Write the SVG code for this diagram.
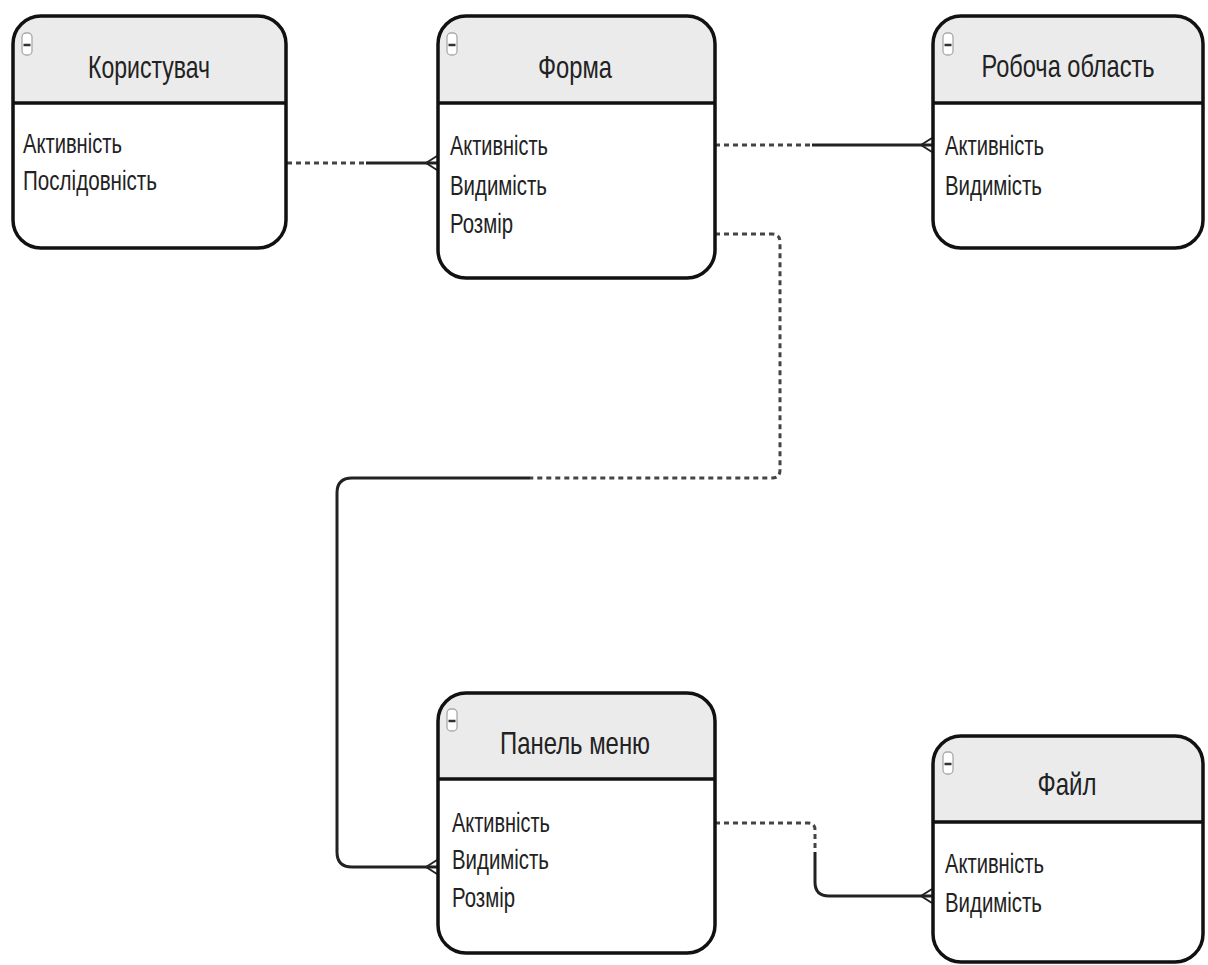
<svg xmlns="http://www.w3.org/2000/svg" width="1208" height="965" viewBox="0 0 1208 965">
<style>
.frame{fill:none;stroke:#111;stroke-width:3.5}
.body{fill:#fff}
.head{fill:#ebebeb}
.div{stroke:#111;stroke-width:3.5}
.icon{fill:#fff;stroke:#aaa;stroke-width:1.3}
.minus{stroke:#333;stroke-width:2.5}
.title{font-family:"Liberation Sans",Arial,sans-serif;font-size:32px;fill:#222;text-anchor:middle}
.row{font-family:"Liberation Sans",Arial,sans-serif;font-size:28px;fill:#222}
.dash{fill:none;stroke:#444;stroke-width:3;stroke-dasharray:5 4}
.solid{fill:none;stroke:#222;stroke-width:3}
</style>
<defs>
<marker id="crow" markerUnits="userSpaceOnUse" markerWidth="14" markerHeight="18" viewBox="0 0 14 18" refX="13" refY="9" orient="auto">
<path d="M2,9 L13,2 M2,9 L13,9 M2,9 L13,16" fill="none" stroke="#222" stroke-width="2"/>
</marker>
</defs>
<rect width="1208" height="965" fill="#fff"/>
<g id="connectors">
<path class="dash" d="M287,163 H366"/>
<path class="solid" d="M366,163 H437" marker-end="url(#crow)"/>
<path class="dash" d="M715,145 H812"/>
<path class="solid" d="M812,145 H932" marker-end="url(#crow)"/>
<path class="dash" d="M715,234 H772 Q780,234 780,242 V470 Q780,478 772,478 H530"/>
<path class="solid" d="M530,478 H352 Q337,478 337,493 V852 Q337,867 352,867 H437" marker-end="url(#crow)"/>
<path class="dash" d="M715,823 H808 Q815,823 815,830 V852"/>
<path class="solid" d="M815,852 V882 Q815,896 829,896 H932" marker-end="url(#crow)"/>
</g>
<g id="node-korystuvach">
<rect class="body" x="13" y="16" width="273" height="232" rx="28"/>
<path class="head" d="M13,103 V44 A28,28 0 0 1 41,16 H258 A28,28 0 0 1 286,44 V103 Z"/>
<rect class="frame" x="13" y="16" width="273" height="232" rx="28"/>
<line class="div" x1="13" y1="103" x2="286" y2="103"/>
<rect class="icon" x="22" y="33" width="10" height="22" rx="4"/>
<line class="minus" x1="23.5" y1="45" x2="30.5" y2="45"/>
<text class="title" x="149" y="78" textLength="122" lengthAdjust="spacingAndGlyphs">Користувач</text>
<text class="row" x="23" y="153" textLength="99" lengthAdjust="spacingAndGlyphs">Активність</text>
<text class="row" x="23" y="190" textLength="134" lengthAdjust="spacingAndGlyphs">Послідовність</text>
</g>
<g id="node-forma">
<rect class="body" x="438" y="16" width="277" height="262" rx="28"/>
<path class="head" d="M438,103 V44 A28,28 0 0 1 466,16 H687 A28,28 0 0 1 715,44 V103 Z"/>
<rect class="frame" x="438" y="16" width="277" height="262" rx="28"/>
<line class="div" x1="438" y1="103" x2="715" y2="103"/>
<rect class="icon" x="447" y="33" width="10" height="22" rx="4"/>
<line class="minus" x1="448.5" y1="45" x2="455.5" y2="45"/>
<text class="title" x="575" y="78" textLength="74" lengthAdjust="spacingAndGlyphs">Форма</text>
<text class="row" x="450" y="155" textLength="98" lengthAdjust="spacingAndGlyphs">Активність</text>
<text class="row" x="450" y="195" textLength="97" lengthAdjust="spacingAndGlyphs">Видимість</text>
<text class="row" x="450" y="233" textLength="63" lengthAdjust="spacingAndGlyphs">Розмір</text>
</g>
<g id="node-robocha-oblast">
<rect class="body" x="933" y="16" width="270" height="232" rx="28"/>
<path class="head" d="M933,103 V44 A28,28 0 0 1 961,16 H1175 A28,28 0 0 1 1203,44 V103 Z"/>
<rect class="frame" x="933" y="16" width="270" height="232" rx="28"/>
<line class="div" x1="933" y1="103" x2="1203" y2="103"/>
<rect class="icon" x="943" y="33" width="10" height="22" rx="4"/>
<line class="minus" x1="944.5" y1="45" x2="951.5" y2="45"/>
<text class="title" x="1068" y="77" textLength="173" lengthAdjust="spacingAndGlyphs">Робоча область</text>
<text class="row" x="945" y="155" textLength="99" lengthAdjust="spacingAndGlyphs">Активність</text>
<text class="row" x="945" y="195" textLength="97" lengthAdjust="spacingAndGlyphs">Видимість</text>
</g>
<g id="node-panel-meniu">
<rect class="body" x="438" y="693" width="277" height="260" rx="28"/>
<path class="head" d="M438,779 V721 A28,28 0 0 1 466,693 H687 A28,28 0 0 1 715,721 V779 Z"/>
<rect class="frame" x="438" y="693" width="277" height="260" rx="28"/>
<line class="div" x1="438" y1="779" x2="715" y2="779"/>
<rect class="icon" x="447" y="709" width="10" height="22" rx="4"/>
<line class="minus" x1="448.5" y1="721" x2="455.5" y2="721"/>
<text class="title" x="575" y="754" textLength="150" lengthAdjust="spacingAndGlyphs">Панель меню</text>
<text class="row" x="452" y="832" textLength="98" lengthAdjust="spacingAndGlyphs">Активність</text>
<text class="row" x="452" y="869" textLength="97" lengthAdjust="spacingAndGlyphs">Видимість</text>
<text class="row" x="452" y="907" textLength="63" lengthAdjust="spacingAndGlyphs">Розмір</text>
</g>
<g id="node-fail">
<rect class="body" x="933" y="736" width="270" height="226" rx="28"/>
<path class="head" d="M933,822 V764 A28,28 0 0 1 961,736 H1175 A28,28 0 0 1 1203,764 V822 Z"/>
<rect class="frame" x="933" y="736" width="270" height="226" rx="28"/>
<line class="div" x1="933" y1="822" x2="1203" y2="822"/>
<rect class="icon" x="943" y="752" width="10" height="22" rx="4"/>
<line class="minus" x1="944.5" y1="764" x2="951.5" y2="764"/>
<text class="title" x="1067" y="795" textLength="59" lengthAdjust="spacingAndGlyphs">Файл</text>
<text class="row" x="945" y="873" textLength="99" lengthAdjust="spacingAndGlyphs">Активність</text>
<text class="row" x="945" y="912" textLength="97" lengthAdjust="spacingAndGlyphs">Видимість</text>
</g>
</svg>
